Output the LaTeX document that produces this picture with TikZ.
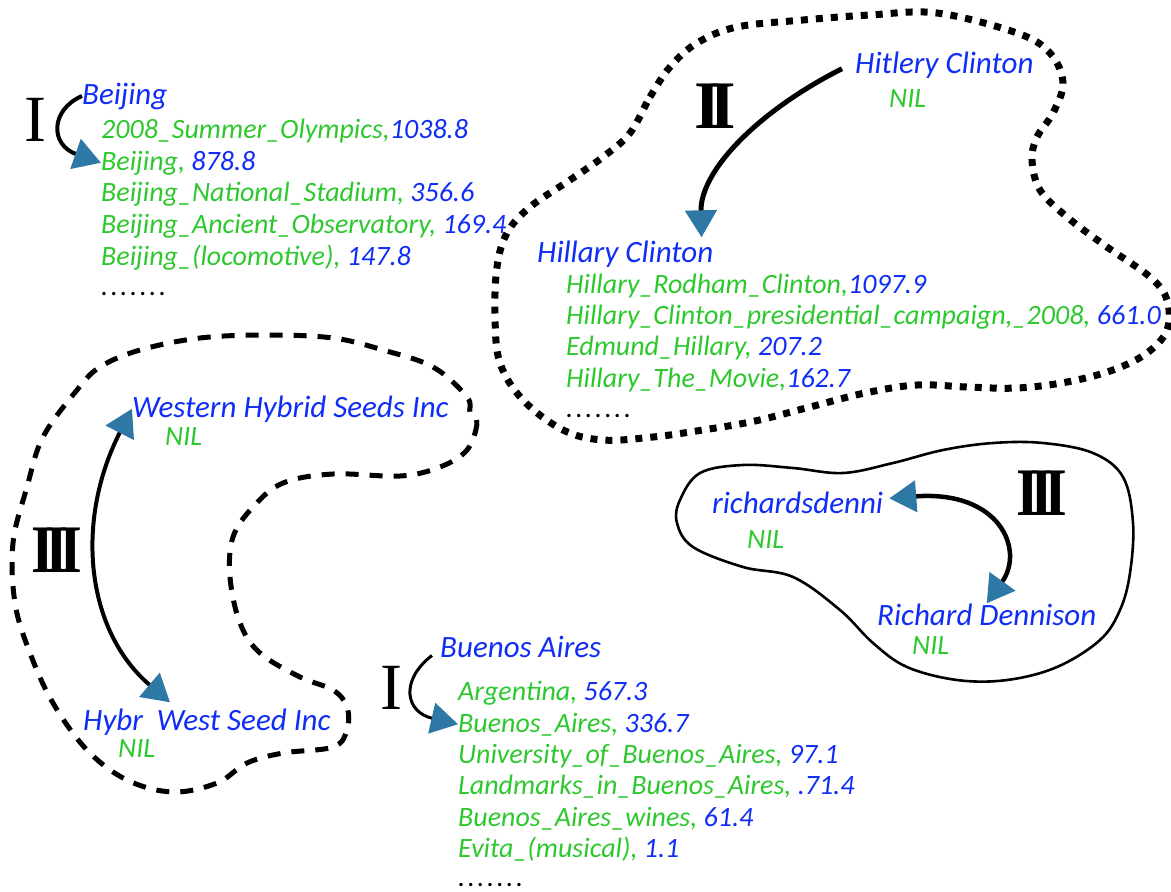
\documentclass[tikz,border=0pt]{standalone}
\usepackage{fontspec}
\setmainfont{Carlito}
\newfontfamily\numfont{Liberation Serif}
\usetikzlibrary{arrows.meta}
\definecolor{tblue}{RGB}{15,45,245}
\definecolor{tgreen}{RGB}{45,200,45}
\definecolor{ahead}{RGB}{45,120,165}
\newcommand\nm[1]{\textcolor{tblue}{#1}}
\newcommand\mydots{.\hspace{2.6pt}.\hspace{2.6pt}.\hspace{2.6pt}.\hspace{2.6pt}.\hspace{2.6pt}.\hspace{2.6pt}.}
\newcommand\romthree{\scalebox{0.86}[1]{I\kern-10.5pt I\kern-10.5pt I}}
\begin{document}
\begin{tikzpicture}[x=1pt,y=-1pt,
  title/.style={anchor=base west, inner sep=0pt, font=\fontsize{31}{31}\selectfont\itshape, text=tblue},
  item/.style={anchor=base west, inner sep=0pt, font=\fontsize{28}{28}\selectfont\itshape, text=tgreen},
  dots/.style={anchor=base west, inner sep=0pt, font=\fontsize{28}{28}\selectfont\itshape, text=black},
  roman/.style={inner sep=0pt, font=\numfont\fontsize{66}{66}\selectfont},
  romanb/.style={inner sep=0pt, font=\numfont\bfseries\fontsize{68}{68}\selectfont},
  link/.style={line width=4pt, -{Triangle[length=27pt,width=31pt,fill=ahead,color=ahead]}},
  dlink/.style={line width=4pt, {Triangle[length=27pt,width=31pt,fill=ahead,color=ahead]}-{Triangle[length=27pt,width=31pt,fill=ahead,color=ahead]}},
  dotblob/.style={line width=7pt, dash pattern=on 7pt off 8pt},
  dashblob/.style={line width=5pt, dash pattern=on 13pt off 11pt},
  solidblob/.style={line width=2.6pt},
 ]
\useasboundingbox (0,0) rectangle (1171,892);

% blobs
\draw[dotblob] plot[smooth cycle, tension=0.6] coordinates {
 (630,133) (650,97) (670,67) (697,43) (737,27) (803,20) (870,15) (937,13)
 (1017,33) (1050,53) (1063,83) (1053,113) (1037,137) (1032,160) (1040,190)
 (1067,217) (1107,247) (1150,277) (1167,300) (1167,330) (1147,353) (1113,370)
 (1067,382) (1017,388) (967,387) (917,385) (865,393) (810,407) (755,421)
 (703,430) (653,437) (603,440) (563,430) (523,400) (500,363) (495,317)
 (497,267) (507,233) (530,207) (570,180) (603,157)};
\draw[dashblob] plot[smooth cycle, tension=0.6] coordinates {
 (470,413) (477,423) (467,450) (440,467) (400,476) (333,474) (283,483)
 (253,507) (233,537) (230,577) (240,623) (260,653) (300,677) (333,690)
 (347,707) (347,730) (333,747) (283,753) (247,763) (217,783) (173,792)
 (127,780) (87,750) (53,703) (30,653) (15,603) (13,543) (27,487) (43,437)
 (77,390) (100,367) (140,350) (200,338) (267,335) (333,338) (383,350)
 (433,367) (467,397)};
\draw[solidblob] plot[smooth cycle, tension=0.6] coordinates {
 (680,500) (700,473) (743,465) (793,468) (843,473) (893,463) (943,450)
 (993,443) (1043,443) (1093,453) (1123,477) (1133,523) (1130,573) (1120,610)
 (1100,640) (1057,667) (1007,680) (957,680) (907,667) (873,643) (840,610)
 (793,577) (743,567) (693,547) (677,523)};

% Beijing
\node[roman] (r1) at (35,120) {I};
\node[title] (bjt) at (82,104) {Beijing};
\node[item] (bj1) at (101,138) {2008\_Summer\_Olympics,\nm{1038.8}};
\node[item] (bj2) at (101,170) {Beijing, \nm{878.8}};
\node[item] (bj3) at (101,201) {Beijing\_National\_Stadium, \nm{356.6}};
\node[item] (bj4) at (101,233) {Beijing\_Ancient\_Observatory, \nm{169.4}};
\node[item] (bj5) at (101,265) {Beijing\_(locomotive), \nm{147.8}};
\node[dots] (bj6) at (101,295) {\mydots};

% Hillary
\node[romanb] (r2) at (715,106) {I\kern-11.5pt I};
\node[title] (hit) at (855,73) {Hitlery Clinton};
\node[item] (hitn) at (889,107) {NIL};
\node[title] (hil) at (537,262) {Hillary Clinton};
\node[item] (h1) at (566,293) {Hillary\_Rodham\_Clinton,\nm{1097.9}};
\node[item] (h2) at (566,324) {Hillary\_Clinton\_presidential\_campaign,\_2008, \nm{661.0}};
\node[item] (h3) at (566,355) {Edmund\_Hillary, \nm{207.2}};
\node[item] (h4) at (566,387) {Hillary\_The\_Movie,\nm{162.7}};
\node[dots] (h5) at (566,417) {\mydots};

% Richard
\node[romanb] (r3) at (1042,493) {\romthree};
\node[title] (rd1) at (712,513) {richardsdenni};
\node[item] (rd1n) at (747,548) {NIL};
\node[title] (rd2) at (877,625) {Richard Dennison};
\node[item] (rd2n) at (912,654) {NIL};

% Western
\node[romanb] (r4) at (57,550) {\romthree};
\node[title] (wh) at (132,417) {Western Hybrid Seeds Inc};
\node[item] (whn) at (165,445) {NIL};
\node[title] (hw) at (83,730) {Hybr\ \ West Seed Inc};
\node[item] (hwn) at (118,757) {NIL};

% Buenos Aires
\node[roman] (r5) at (391,688) {I};
\node[title] (ba) at (440,657) {Buenos Aires};
\node[item] (b1) at (458,700) {Argentina, \nm{567.3}};
\node[item] (b2) at (458,732) {Buenos\_Aires, \nm{336.7}};
\node[item] (b3) at (458,763) {University\_of\_Buenos\_Aires, \nm{97.1}};
\node[item] (b4) at (458,794) {Landmarks\_in\_Buenos\_Aires, \nm{.71.4}};
\node[item] (b5) at (458,826) {Buenos\_Aires\_wines, \nm{61.4}};
\node[item] (b6) at (458,857) {Evita\_(musical), \nm{1.1}};
\node[dots] (b7) at (458,886) {\mydots};

% connectors
\draw[link] (bjt.west) .. controls (50,110) and (50,145) .. (bj2.west);
\draw[link, line width=5pt] ([xshift=-13pt,yshift=-4pt]hit.west) .. controls (760,110) and (700,170) .. ([xshift=-12pt,yshift=3pt]hil.north east);
\draw[dlink, line width=4.5pt] ([xshift=6pt,yshift=4pt]rd1.east) .. controls (1000,490) and (1025,550) .. (rd2.north);
\draw[dlink] (wh.west) .. controls (75,520) and (85,630) .. ([xshift=87pt,yshift=6pt]hw.north west);
\draw[link, line width=3pt] ([xshift=-8pt,yshift=-9pt]ba.west) .. controls (400,680) and (405,712) .. (b2.west);
\end{tikzpicture}
\end{document}
